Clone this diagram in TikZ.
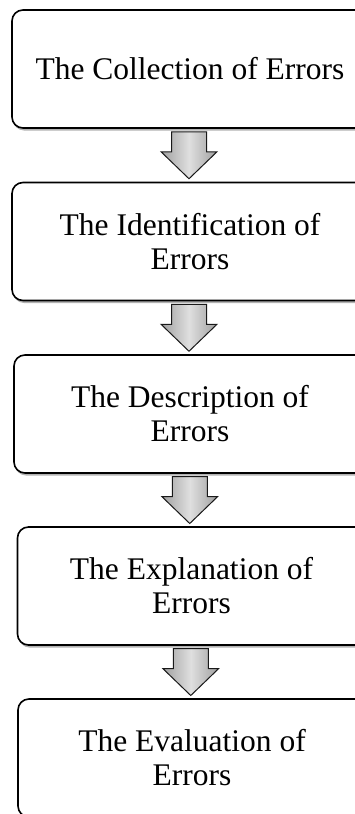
\documentclass[tikz,border=0pt]{standalone}
\usepackage{fontspec}
\setmainfont{Liberation Serif}
\usetikzlibrary{calc,shadows}
\tikzstyle{stage} = [draw=black, line width=1.6pt, fill=white, rounded corners=11pt, minimum height=118pt, align=center, font={\fontsize{31.5}{34}\selectfont}, drop shadow={shadow xshift=1pt, shadow yshift=-2.5pt, opacity=0.3, fill=black}]
\tikzstyle{wide} = [minimum width=356pt]
\tikzstyle{narrow} = [minimum width=348pt]
\tikzstyle{flow} = [draw=black!90, line width=1pt, left color=gray!75, right color=gray!75, middle color=gray!25]

\begin{document}
\begin{tikzpicture}
  \useasboundingbox (0,0) rectangle (355pt,-814pt);
  \clip (0,0) rectangle (355pt,-814pt);
  \node[stage,wide](collection) at (190pt,-69pt){The Collection of Errors};
  \node[stage,wide](identification) at (190pt,-241.5pt){The Identification of\\Errors};
  \node[stage,minimum width=352pt](description) at (190pt,-414pt){The Description of\\Errors};
  \node[stage,narrow](explanation) at (191.5pt,-586pt){The Explanation of\\Errors};
  \node[stage,narrow](evaluation) at (192pt,-758pt){The Evaluation of\\Errors};
  \foreach \a/\b in {collection/identification,identification/description,description/explanation,explanation/evaluation}
    \draw[flow] ($(\a.south)!0.5!(\b.north)+(-1pt,0)$) ++(-17.5pt,23.5pt) -- ++(35pt,0pt) -- ++(0pt,-20pt) -- ++(10.5pt,0pt) -- ++(-28pt,-27pt) -- ++(-28pt,27pt) -- ++(10.5pt,0pt) -- cycle;
\end{tikzpicture}
\end{document}
